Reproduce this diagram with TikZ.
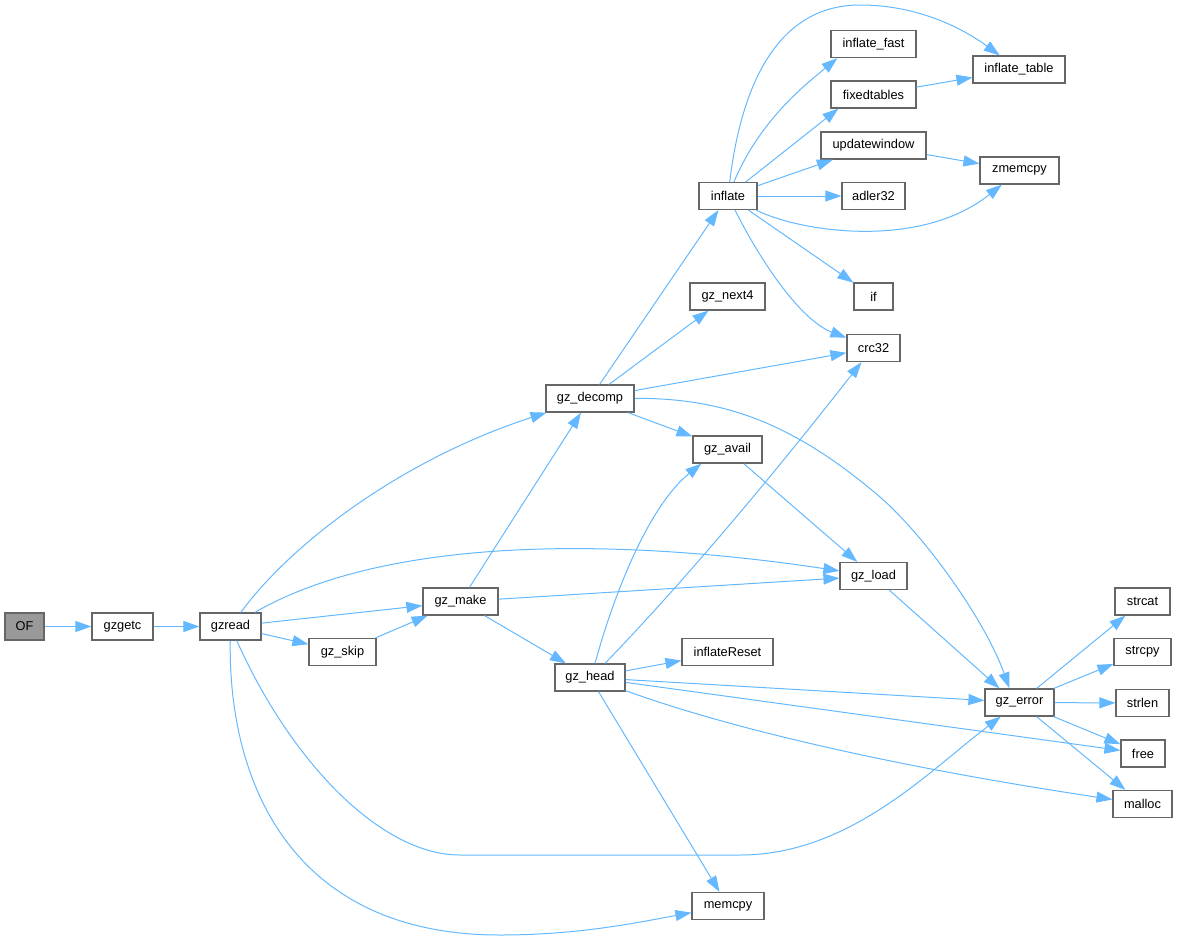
\documentclass[tikz,border=0pt]{standalone}
\usepackage{fontspec}
\setmainfont{Liberation Sans}
\usetikzlibrary{arrows.meta}
\definecolor{edgeblue}{HTML}{63B8FF}
\definecolor{boxgray}{HTML}{666666}
\definecolor{fillgray}{HTML}{999999}

\begin{document}
\begin{tikzpicture}[x=1pt, y=-1pt,
 fn/.style={draw=boxgray, line width=1.2pt, fill=white, minimum height=27pt, inner sep=0pt,
  font=\fontsize{12.8}{15}\selectfont},
 call/.style={edgeblue, line width=1pt, -{Triangle[length=16pt,width=11pt]}}]
\useasboundingbox (0,0) rectangle (1178,940);
\node[fn, fill=fillgray, minimum width=39pt] (OF) at (24.5,626.5) {OF};
\foreach \n/\t/\x/\y/\w in {gzgetc/gzgetc/122.5/626.5/61, gzread/gzread/230.5/626.5/61,
 gzskip/gz\_skip/342.5/652/67, gzmake/gz\_make/460.5/601.5/75,
 gzdecomp/gz\_decomp/590/398.5/88, gzhead/gz\_head/590/677.5/70,
 inflateReset/inflateReset/727.5/652/91, gzavail/gz\_avail/727.5/449.5/69,
 gznext/gz\_next4/727.5/296.5/75, memcpy/memcpy/728/906/72,
 inflate/inflate/728/196/58, inflatefast/inflate\_fast/873.5/44/85,
 fixedtables/fixedtables/873.5/94.5/85, updatewindow/updatewindow/873.5/145.5/105,
 adler/adler32/873.5/196/63, if/if/873.5/296.5/39, crc/crc32/873.5/348/53,
 gzload/gz\_load/873.5/576/67, inflatetable/inflate\_table/1019/69.5/92,
 zmemcpy/zmemcpy/1019.5/170.5/79, gzerror/gz\_error/1019.5/702.5/69,
 strcat/strcat/1142.5/601.5/55, strcpy/strcpy/1142.5/652/57,
 strlen/strlen/1142.5/703/53, free/free/1143/753.5/44, malloc/malloc/1142.5/804/59}
 \node[fn, minimum width=\w pt] (\n) at (\x,\y) {\t};

\foreach \a/\b in {OF/gzgetc, gzgetc/gzread, gzread/gzmake, gzread/gzskip, gzskip/gzmake,
 gzmake/gzdecomp, gzmake/gzload, gzmake/gzhead, gzdecomp/inflate, gzdecomp/gznext,
 gzdecomp/crc, gzdecomp/gzavail, gzhead/inflateReset, gzhead/gzerror, gzhead/free,
 gzhead/memcpy, gzavail/gzload, inflate/updatewindow, inflate/adler,
 inflate/if, fixedtables/inflatetable, updatewindow/zmemcpy, gzerror/strcat,
 gzerror/strcpy, gzerror/strlen, gzerror/free, gzerror/malloc}
 \draw[call] (\a) -- (\b);
\draw[call] (gzload) -- ([xshift=-20pt]gzerror.north);

\draw[call] (gzread) .. controls (290,545) and (400,460) .. (gzdecomp);
\draw[call] (gzread) .. controls (380,540) and (600,535) .. (gzload);
\draw[call] (gzread) .. controls (290,760) and (380,855) .. (460,855) -- (740,855)
 .. controls (850,855) and (930,770) .. (gzerror);
\draw[call] (gzread) .. controls (228,780) and (290,935) .. (500,935)
 .. controls (580,935) and (640,922) .. (memcpy);
\draw[call] (gzdecomp) .. controls (720,398) and (790,420) .. (880,497)
 .. controls (925,536) and (985,620) .. ([xshift=-10pt]gzerror.north);
\draw[call] ([xshift=5pt]gzhead.north) .. controls (615,590) and (650,505) .. ([xshift=9pt]gzavail.south west);
\draw[call] ([xshift=15pt]gzhead.north) .. controls (695,570) and (785,460) .. ([xshift=-12pt]crc.south);
\draw[call] (gzhead) .. controls (700,718) and (850,760) .. (malloc);
\draw[call] (inflate) .. controls (742,80) and (780,5) .. (860,5)
 .. controls (920,5) and (965,30) .. (inflatetable);
\draw[call] (inflate) .. controls (760,120) and (805,85) .. ([xshift=7pt]inflatefast.south west);
\draw[call] (inflate) -- ([xshift=8pt]fixedtables.south west);
\draw[call] (inflate) .. controls (800,232) and (920,250) .. (zmemcpy);
\draw[call] (inflate) .. controls (760,260) and (800,320) .. (crc);
\end{tikzpicture}
\end{document}
